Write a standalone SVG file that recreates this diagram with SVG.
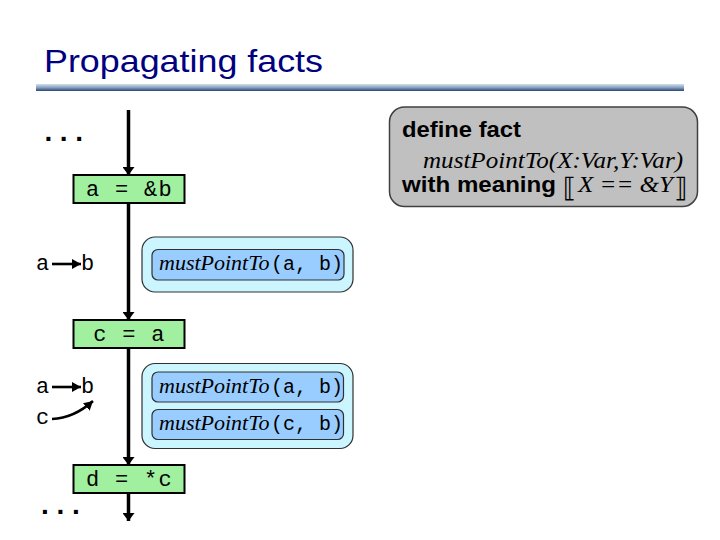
<svg xmlns="http://www.w3.org/2000/svg" width="720" height="540" viewBox="0 0 720 540">
<style>
.mono{font-family:"Liberation Mono","Courier New",monospace;fill:#000}
.stmt{font-size:22px;letter-spacing:1.3px;text-anchor:middle}
.it{font-family:"Liberation Serif","Times New Roman",serif;font-style:italic;fill:#000}
.sans{font-family:"Liberation Sans",Arial,sans-serif;font-weight:bold;fill:#000}
.green{fill:#a0f0a0;stroke:#000;stroke-width:2}
.outer{fill:#ccf6ff;stroke:#303030;stroke-width:1.2}
.inner{fill:#99ccff;stroke:#303030;stroke-width:1.2}
.flow{stroke:#000;stroke-width:3.5;fill:none}
.small{stroke:#000;stroke-width:2.6;fill:none}
.dots{font-family:"Liberation Sans",Arial,sans-serif;font-weight:bold;font-size:28px;letter-spacing:7.7px;fill:#000}
.br{font-family:"DejaVu Sans",sans-serif;font-size:27px;fill:#000}
</style>
<defs>
<linearGradient id="rule" x1="0" y1="0" x2="0" y2="1">
<stop offset="0" stop-color="#d4e0ec"/>
<stop offset="0.5" stop-color="#8aa2c0"/>
<stop offset="1" stop-color="#2a4678"/>
</linearGradient>
<marker id="ah" viewBox="0 0 8 12" refX="8" refY="6" markerWidth="8" markerHeight="12" markerUnits="userSpaceOnUse" orient="auto">
<path d="M0,0 L8,6 L0,12 z" fill="#000"/>
</marker>
<marker id="sh" viewBox="0 0 9 10" refX="9" refY="5" markerWidth="9" markerHeight="10" markerUnits="userSpaceOnUse" orient="auto">
<path d="M0,0 L9,5 L0,10 z" fill="#000"/>
</marker>
</defs>
<rect width="720" height="540" fill="#fff"/>

<g id="title">
<text x="44" y="72" font-family="Liberation Sans,Arial,sans-serif" font-size="32" fill="#000080" textLength="279" lengthAdjust="spacingAndGlyphs">Propagating facts</text>
<rect x="36" y="84" width="648" height="7" fill="url(#rule)"/>
</g>

<g id="connectors">
<line class="flow" x1="128.5" y1="110" x2="128.5" y2="175" marker-end="url(#ah)"/>
<line class="flow" x1="128.5" y1="203" x2="128.5" y2="320" marker-end="url(#ah)"/>
<line class="flow" x1="128.5" y1="348" x2="128.5" y2="465" marker-end="url(#ah)"/>
<line class="flow" x1="128.5" y1="493" x2="128.5" y2="521" marker-end="url(#ah)"/>
</g>

<g id="dots-top"><text class="dots" x="44.4" y="141">...</text></g>
<g id="dots-bottom"><text class="dots" x="41" y="514">...</text></g>

<g id="stmt-a-addr-b">
<rect class="green" x="73.5" y="175" width="111" height="28"/>
<text class="mono stmt" x="129.5" y="195.5">a = &amp;b</text>
</g>

<g id="stmt-c-a">
<rect class="green" x="73.5" y="320" width="111" height="28"/>
<text class="mono stmt" x="129.5" y="340.5">c = a</text>
</g>

<g id="stmt-d-deref-c">
<rect class="green" x="73.5" y="465" width="111" height="28"/>
<text class="mono stmt" x="129.5" y="485.5">d = *c</text>
</g>

<g id="pts-1">
<text class="mono" x="36" y="270" font-size="22">a</text>
<line class="small" x1="52" y1="264" x2="81" y2="264" marker-end="url(#sh)"/>
<text class="mono" x="81" y="270" font-size="22">b</text>
</g>

<g id="pts-2">
<text class="mono" x="36" y="393" font-size="22">a</text>
<line class="small" x1="52" y1="387" x2="81" y2="387" marker-end="url(#sh)"/>
<text class="mono" x="81" y="393" font-size="22">b</text>
<text class="mono" x="36" y="424" font-size="22">c</text>
<path class="small" d="M52,419 Q74,418 93,401" marker-end="url(#sh)"/>
</g>

<g id="facts-1">
<rect class="outer" x="142" y="237" width="211" height="55" rx="13"/>
<rect class="inner" x="152" y="249.5" width="192" height="30.5" rx="6"/>
<text class="it" x="159" y="270" font-size="22">mustPointTo</text>
<text class="mono" x="271" y="270" font-size="20">(a, b)</text>
</g>

<g id="facts-2">
<rect class="outer" x="142" y="363.5" width="211" height="85" rx="13"/>
<rect class="inner" x="152" y="372" width="191.5" height="30" rx="6"/>
<text class="it" x="159" y="393" font-size="22">mustPointTo</text>
<text class="mono" x="271" y="393" font-size="20">(a, b)</text>
<rect class="inner" x="152" y="409.5" width="191.5" height="30" rx="6"/>
<text class="it" x="159" y="430" font-size="22">mustPointTo</text>
<text class="mono" x="271" y="430" font-size="20">(c, b)</text>
</g>

<g id="definition">
<rect x="389.5" y="107" width="308" height="99.5" rx="15" fill="#c0c0c0" stroke="#404040" stroke-width="1.5"/>
<text class="sans" x="402" y="137" font-size="21.5" textLength="119" lengthAdjust="spacingAndGlyphs">define fact</text>
<text class="it" x="423" y="168" font-size="23" textLength="260" lengthAdjust="spacingAndGlyphs">mustPointTo(X:Var,Y:Var)</text>
<text class="sans" x="402" y="192" font-size="21.5" textLength="154" lengthAdjust="spacingAndGlyphs">with meaning</text>
<text class="br" x="563" y="197">⟦</text>
<text class="it" x="578" y="192" font-size="23" textLength="95" lengthAdjust="spacingAndGlyphs">X == &amp;Y</text>
<text class="br" x="674" y="197">⟧</text>
</g>
</svg>
